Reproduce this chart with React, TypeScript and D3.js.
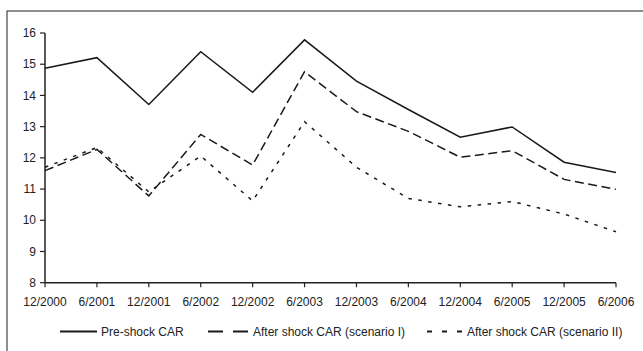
import React from "react";
import * as d3 from "d3";

const categories = ["12/2000","6/2001","12/2001","6/2002","12/2002","6/2003","12/2003","6/2004","12/2004","6/2005","12/2005","6/2006"];
const preShock = [14.87,15.21,13.71,15.4,14.1,15.78,14.46,13.55,12.66,12.99,11.86,11.53];
const scenarioI = [11.59,12.27,10.78,12.75,11.77,14.76,13.48,12.85,12.02,12.23,11.31,10.99];
const scenarioII = [11.7,12.33,10.91,12.06,10.62,13.16,11.7,10.7,10.43,10.6,10.2,9.63];
const yTicks = [8,9,10,11,12,13,14,15,16];
const seriesNames = ["Pre-shock CAR","After shock CAR (scenario I)","After shock CAR (scenario II)"];

export default function App() {
  const W = 643, H = 351;
  const x = d3.scalePoint<string>().domain(categories).range([45, 616]);
  const y = d3.scaleLinear().domain([8, 16]).range([282.7, 33]);
  const line = d3.line<number>().x((_, i) => x(categories[i])!).y(d => y(d));
  const font = "'Liberation Sans', Arial, sans-serif";
  const series = [
    { data: preShock, dash: undefined as string | undefined, legDash: undefined as string | undefined },
    { data: scenarioI, dash: "9,4.5", legDash: "15,10" },
    { data: scenarioII, dash: "3.5,6.5", legDash: "5,10" },
  ];
  const legend = [
    { x1: 60, x2: 97, tx: 101 },
    { x1: 208, x2: 249, tx: 253 },
    { x1: 427, x2: 462, tx: 467 },
  ];
  return (
    <svg width={W} height={H} style={{ position: "absolute", left: 0, top: 0, background: "#fff" }}>
      <rect x={7} y={11} width={660} height={360} fill="#fff" stroke="#444" strokeWidth={1.2} />
      {/* y axis */}
      <line x1={45} x2={45} y1={y(16)} y2={y(8)} stroke="#222" strokeWidth={1.5} />
      {yTicks.map(t => (
        <g key={t}>
          <line x1={40} x2={45} y1={y(t)} y2={y(t)} stroke="#222" strokeWidth={1.2} />
          <text x={36} y={y(t)} dy="0.35em" textAnchor="end" fontFamily={font} fontSize={12} fill="#222">{t}</text>
        </g>
      ))}
      {/* x axis */}
      <line x1={45} x2={616} y1={y(8)} y2={y(8)} stroke="#222" strokeWidth={1.5} />
      {categories.map(c => (
        <g key={c}>
          <line x1={x(c)} x2={x(c)} y1={y(8)} y2={y(8) + 4.5} stroke="#222" strokeWidth={1.2} />
          <text x={x(c)} y={306} textAnchor="middle" fontFamily={font} fontSize={12} fill="#222">{c}</text>
        </g>
      ))}
      {series.map((s, i) => (
        <path key={i} d={line(s.data)!} fill="none" stroke="#1a1a1a" strokeWidth={1.5} strokeDasharray={s.dash} />
      ))}
      {legend.map((l, i) => (
        <g key={i}>
          <line x1={l.x1} x2={l.x2} y1={331.5} y2={331.5} stroke="#1a1a1a" strokeWidth={2} strokeDasharray={series[i].legDash} />
          <text x={l.tx} y={331.5} dy="0.35em" fontFamily={font} fontSize={12} fill="#222">{seriesNames[i]}</text>
        </g>
      ))}
    </svg>
  );
}
